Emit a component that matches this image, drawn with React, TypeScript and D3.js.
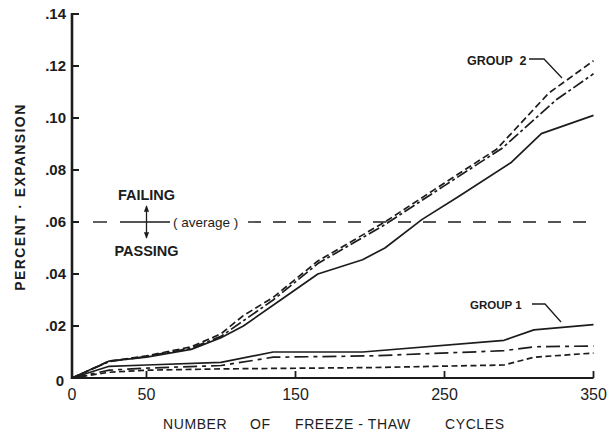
import React from "react";
import * as d3 from "d3";

// Freeze-thaw durability test: percent expansion vs. number of cycles
const yTicks = [0, 0.02, 0.04, 0.06, 0.08, 0.1, 0.12, 0.14];
const yTickLabels = ["0", ".02", ".04", ".06", ".08", ".10", ".12", ".14"];
const xTicks = [50, 150, 250, 350];
const xTickLabels = ["0", "50", "150", "250", "350"];
const xTickLabelValues = [0, 50, 150, 250, 350];

const averageLimit = 0.06;

// Group 2
const g2SolidCycles = [0, 25, 50, 80, 100, 115, 140, 165, 195, 210, 235, 260, 295, 315, 350];
const g2SolidValues = [0, 0.0065, 0.008, 0.011, 0.0155, 0.02, 0.03, 0.04, 0.0455, 0.05, 0.061, 0.07, 0.083, 0.094, 0.101];
const g2DashCycles = [0, 25, 50, 80, 100, 115, 135, 165, 210, 250, 285, 320, 350];
const g2DashValues = [0, 0.0065, 0.0085, 0.012, 0.017, 0.024, 0.031, 0.045, 0.06, 0.075, 0.088, 0.1096, 0.122];
const g2DashDotCycles = [0, 25, 50, 80, 100, 115, 135, 165, 210, 250, 289, 325, 350];
const g2DashDotValues = [0, 0.0063, 0.0083, 0.0115, 0.016, 0.022, 0.03, 0.044, 0.059, 0.074, 0.0885, 0.107, 0.117];

// Group 1
const g1SolidCycles = [0, 25, 50, 100, 135, 195, 290, 310, 350];
const g1SolidValues = [0, 0.0045, 0.005, 0.006, 0.01, 0.01, 0.0145, 0.0185, 0.0205];
const g1DashDotCycles = [0, 25, 50, 100, 135, 200, 290, 310, 350];
const g1DashDotValues = [0, 0.003, 0.0038, 0.0048, 0.008, 0.0085, 0.0105, 0.012, 0.0123];
const g1DashCycles = [0, 25, 50, 100, 200, 290, 310, 350];
const g1DashValues = [0, 0.0022, 0.003, 0.0035, 0.004, 0.005, 0.008, 0.0096];

const INK = "#1c1c1c";
const FONT = "'Liberation Sans', Arial, Helvetica, sans-serif";

export default function App() {
  const width = 607;
  const height = 436;
  const x = d3.scaleLinear().domain([0, 350]).range([72, 593.5]);
  const y = d3.scaleLinear().domain([0, 0.14]).range([378, 14]);

  const line = d3
    .line<[number, number]>()
    .x((d) => x(d[0]))
    .y((d) => y(d[1]))
    .curve(d3.curveLinear);

  const zip = (a: number[], b: number[]) => a.map((v, i) => [v, b[i]] as [number, number]);

  const series = [
    { c: g2SolidCycles, v: g2SolidValues, dash: "none" },
    { c: g2DashCycles, v: g2DashValues, dash: "7,3.5" },
    { c: g2DashDotCycles, v: g2DashDotValues, dash: "12,3,3,3" },
    { c: g1SolidCycles, v: g1SolidValues, dash: "none" },
    { c: g1DashDotCycles, v: g1DashDotValues, dash: "14,5,4,5" },
    { c: g1DashCycles, v: g1DashValues, dash: "6,3.5" },
  ];

  const yAvg = y(averageLimit);
  const arrowX = x(50);

  return (
    <svg
      width={width}
      height={height}
      style={{ position: "absolute", left: 0, top: 0, background: "#fff" }}
      fontFamily={FONT}
    >
      <defs>
        <marker id="ah" viewBox="0 0 10 10" refX="9" refY="5" markerWidth="5" markerHeight="6" orient="auto">
          <path d="M0,1 L10,5 L0,9 z" fill={INK} />
        </marker>
      </defs>

      {/* axes */}
      <line x1={x(0)} x2={x(0)} y1={y(0.14) - 1} y2={y(0) + 1} stroke={INK} strokeWidth={2.6} />
      <line x1={x(0)} x2={x(350)} y1={y(0)} y2={y(0)} stroke={INK} strokeWidth={2.2} />
      {yTicks.slice(1).map((t) => (
        <line key={t} x1={x(0)} x2={x(0) + 7} y1={y(t)} y2={y(t)} stroke={INK} strokeWidth={2} />
      ))}
      {xTicks.map((t) => (
        <line key={t} x1={x(t)} x2={x(t)} y1={y(0)} y2={y(0) - 7} stroke={INK} strokeWidth={1.8} />
      ))}
      {yTicks.map((t, i) => (
        <text
          key={t}
          x={t === 0 ? 64 : 66}
          y={t === 0 ? y(t) + 3 : y(t)}
          dy="0.36em"
          textAnchor="end"
          fontSize={15}
          fontWeight="bold"
          fill={INK}
        >
          {yTickLabels[i]}
        </text>
      ))}
      {xTickLabelValues.map((t, i) => (
        <text key={t} x={x(t)} y={400} textAnchor="middle" fontSize={16} fill={INK}>
          {xTickLabels[i]}
        </text>
      ))}

      {/* axis titles */}
      <text
        transform={`translate(25,197) rotate(-90)`}
        textAnchor="middle"
        fontSize={14}
        fontWeight="bold"
        letterSpacing={1.4}
        fill={INK}
      >
        PERCENT · EXPANSION
      </text>
      <g fontSize={14} fill={INK} letterSpacing={0.6}>
        <text x={163} y={429}>NUMBER</text>
        <text x={250} y={429}>OF</text>
        <text x={295} y={429}>FREEZE - THAW</text>
        <text x={445} y={429}>CYCLES</text>
      </g>

      {/* failing / passing limit */}
      <line x1={93} x2={107} y1={yAvg} y2={yAvg} stroke={INK} strokeWidth={1.4} />
      <line x1={120} x2={170} y1={yAvg} y2={yAvg} stroke={INK} strokeWidth={1.4} />
      <line
        x1={248}
        x2={x(350)}
        y1={yAvg}
        y2={yAvg}
        stroke={INK}
        strokeWidth={1.4}
        strokeDasharray="13,12"
      />
      <line x1={arrowX} x2={arrowX} y1={yAvg} y2={206} stroke={INK} strokeWidth={1.3} markerEnd="url(#ah)" />
      <line x1={arrowX} x2={arrowX} y1={yAvg} y2={238} stroke={INK} strokeWidth={1.3} markerEnd="url(#ah)" />
      <text x={arrowX} y={200} textAnchor="middle" fontSize={14.5} fontWeight="bold" fill={INK}>
        FAILING
      </text>
      <text x={arrowX} y={256} textAnchor="middle" fontSize={14.5} fontWeight="bold" fill={INK}>
        PASSING
      </text>
      <text x={173} y={yAvg} dy="0.35em" fontSize={13.5} fill={INK}>
        ( average )
      </text>

      {/* expansion curves */}
      {series.map((s, i) => (
        <path
          key={i}
          d={line(zip(s.c, s.v)) || ""}
          fill="none"
          stroke={INK}
          strokeWidth={1.7}
          strokeDasharray={s.dash}
          strokeLinejoin="round"
        />
      ))}

      {/* group labels */}
      <text x={467} y={65} fontSize={12.5} fontWeight="bold" fill={INK} style={{ whiteSpace: "pre" }}>
        {"GROUP  2"}
      </text>
      <path d="M529,59 L544,59 L562,78" fill="none" stroke={INK} strokeWidth={1.3} />
      <text x={470} y={309} fontSize={11.5} fontWeight="bold" fill={INK} style={{ whiteSpace: "pre" }}>
        {"GROUP 1"}
      </text>
      <path d="M532,304 L545,304 L561,322" fill="none" stroke={INK} strokeWidth={1.3} />
    </svg>
  );
}
